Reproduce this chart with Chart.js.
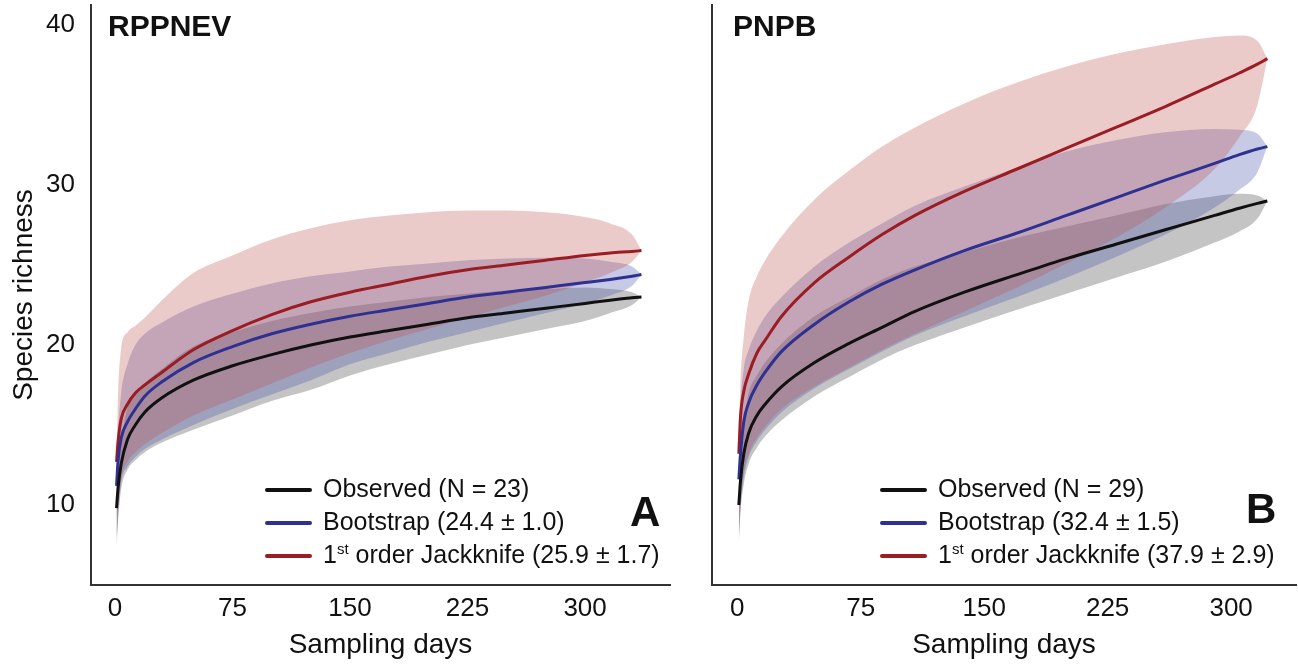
<!DOCTYPE html>
<html>
<head>
<meta charset="utf-8">
<script src="https://cdn.jsdelivr.net/npm/chart.js@4.4.1/dist/chart.umd.min.js"></script>
<style>
  body { margin: 0; background: #fff; }
  #wrap { position: relative; width: 1298px; height: 668px; font-family: "Liberation Sans", Arial, sans-serif; color: #111; }
  canvas { position: absolute; top: 0; }
  #chartA { left: 0; }
  #chartB { left: 700px; }
  .lbl { position: absolute; white-space: nowrap; line-height: 1; }
  .panel { font-weight: bold; font-size: 30px; }
  .letter { font-weight: bold; font-size: 42px; }
  .key { font-size: 25px; }
  .key sup { font-size: 15px; vertical-align: 9px; line-height: 0; }
  .swatch { position: absolute; width: 47px; height: 4px; border-radius: 2px; }
</style>
</head>
<body>
<div id="wrap">
  <canvas id="chartA" width="700" height="668"></canvas>
  <canvas id="chartB" width="598" height="668"></canvas>

  <div class="lbl panel" style="left:108px; top:11px;">RPPNEV</div>
  <div class="lbl panel" style="left:733px; top:11px;">PNPB</div>

  <div class="swatch" style="left:265px; top:488px; background:#111;"></div>
  <div class="swatch" style="left:265px; top:521px; background:#2e3192;"></div>
  <div class="swatch" style="left:265px; top:554px; background:#9b1c22;"></div>
  <div class="lbl key" style="left:323px; top:476px;">Observed (N = 23)</div>
  <div class="lbl key" style="left:323px; top:509px;">Bootstrap (24.4 ± 1.0)</div>
  <div class="lbl key" style="left:323px; top:542px;">1<sup>st</sup> order Jackknife (25.9 ± 1.7)</div>
  <div class="lbl letter" style="left:630px; top:491px;">A</div>

  <div class="swatch" style="left:880px; top:488px; background:#111;"></div>
  <div class="swatch" style="left:880px; top:521px; background:#2e3192;"></div>
  <div class="swatch" style="left:880px; top:554px; background:#9b1c22;"></div>
  <div class="lbl key" style="left:938px; top:476px;">Observed (N = 29)</div>
  <div class="lbl key" style="left:938px; top:509px;">Bootstrap (32.4 ± 1.5)</div>
  <div class="lbl key" style="left:938px; top:542px;">1<sup>st</sup> order Jackknife (37.9 ± 2.9)</div>
  <div class="lbl letter" style="left:1246px; top:488px;">B</div>
</div>

<script>
// axis ticks
const xTicks = [0, 75, 150, 225, 300];
const yTicks = [10, 20, 30, 40];

// RPPNEV - accumulation curves with confidence bands
const daysA = [1, 2, 4, 8, 13, 19, 30, 50, 75, 100, 125, 150, 175, 200, 225, 250, 275, 300, 316, 330, 336];
const obsA    = [9.8, 11.1, 12.6, 14.1, 15.0, 15.8, 16.7, 17.8, 18.7, 19.4, 20.0, 20.5, 20.9, 21.3, 21.7, 22.0, 22.3, 22.6, 22.8, 22.95, 23.0];
const obsLoA  = [7.3, 9.0, 11.0, 12.2, 12.8, 13.3, 13.9, 14.7, 15.6, 16.5, 17.2, 18.1, 18.8, 19.4, 20.0, 20.5, 21.0, 21.5, 22.0, 22.5, 23.0];
const obsHiA  = [10.0, 12.3, 14.0, 16.1, 16.9, 17.6, 18.5, 19.9, 20.8, 21.5, 22.0, 22.4, 22.7, 23.0, 23.2, 23.4, 23.5, 23.6, 23.5, 23.3, 23.0];
const bootA   = [11.2, 12.8, 14.2, 15.2, 16.0, 16.8, 17.7, 18.9, 19.9, 20.7, 21.3, 21.8, 22.2, 22.6, 23.0, 23.3, 23.6, 23.9, 24.1, 24.3, 24.4];
const bootLoA = [7.6, 9.3, 11.4, 12.4, 13.0, 13.5, 14.1, 15.0, 16.0, 16.9, 17.8, 18.8, 19.5, 20.2, 20.8, 21.4, 22.0, 22.6, 23.1, 23.7, 24.4];
const bootHiA = [11.6, 14.5, 17.0, 18.8, 20.0, 20.7, 21.4, 22.4, 23.2, 23.85, 24.3, 24.6, 24.9, 25.1, 25.3, 25.4, 25.45, 25.4, 25.2, 24.9, 24.4];
const jackA   = [12.7, 14.0, 15.4, 16.3, 17.0, 17.5, 18.3, 19.7, 20.9, 21.9, 22.7, 23.3, 23.8, 24.3, 24.7, 25.0, 25.3, 25.6, 25.75, 25.85, 25.9];
const jackLoA = [8.0, 9.6, 11.6, 12.7, 13.3, 13.8, 14.5, 15.6, 16.6, 17.6, 18.6, 19.5, 20.3, 21.0, 21.7, 22.4, 23.1, 23.9, 24.5, 25.2, 25.9];
const jackHiA = [13.0, 17.0, 19.8, 20.8, 21.2, 21.7, 22.8, 24.5, 25.6, 26.6, 27.3, 27.8, 28.1, 28.3, 28.4, 28.4, 28.3, 28.0, 27.6, 26.9, 25.9];

// PNPB
const daysB = [1, 2, 4, 7, 12, 17, 27, 47, 68, 88, 108, 138, 170, 200, 230, 260, 290, 305, 316, 322];
const obsB    = [10.0, 11.5, 13.2, 14.5, 15.6, 16.3, 17.4, 18.9, 20.1, 21.1, 22.1, 23.3, 24.4, 25.4, 26.3, 27.2, 28.1, 28.55, 28.85, 29.0];
const obsLoB  = [7.5, 9.5, 11.3, 12.6, 13.6, 14.3, 15.3, 16.8, 18.0, 19.1, 20.0, 21.1, 22.2, 23.2, 24.2, 25.2, 26.4, 27.1, 27.9, 29.0];
const obsHiB  = [10.3, 12.5, 15.0, 17.0, 18.1, 18.9, 20.1, 21.8, 23.0, 24.1, 24.9, 25.8, 26.7, 27.4, 28.1, 28.8, 29.3, 29.45, 29.35, 29.0];
const bootB   = [11.6, 13.2, 15.2, 16.4, 17.5, 18.3, 19.6, 21.3, 22.7, 23.8, 24.7, 25.9, 27.0, 28.1, 29.2, 30.3, 31.35, 31.9, 32.25, 32.4];
const bootLoB = [7.8, 9.8, 11.7, 13.0, 14.0, 14.7, 15.8, 17.3, 18.5, 19.6, 20.6, 21.8, 23.0, 24.2, 25.5, 26.9, 28.6, 29.7, 30.8, 32.4];
const bootHiB = [12.0, 16.0, 18.5, 19.7, 20.9, 21.8, 23.0, 24.9, 26.4, 27.6, 28.7, 29.9, 31.1, 32.1, 32.8, 33.3, 33.5, 33.45, 33.2, 32.4];
const jackB   = [13.2, 15.5, 17.1, 18.2, 19.5, 20.3, 21.8, 23.9, 25.5, 26.9, 28.1, 29.6, 31.0, 32.3, 33.6, 34.9, 36.3, 37.0, 37.55, 37.9];
const jackLoB = [8.0, 10.0, 12.0, 13.2, 14.2, 14.9, 16.0, 17.4, 18.6, 19.7, 20.7, 22.1, 23.6, 25.1, 26.7, 28.6, 31.0, 33.0, 35.0, 37.9];
const jackHiB = [13.5, 17.5, 20.5, 22.8, 24.3, 25.3, 26.8, 29.1, 30.9, 32.4, 33.6, 35.1, 36.4, 37.4, 38.2, 38.8, 39.25, 39.35, 39.0, 37.9];

const LINE_OBS = '#111111', LINE_BOOT = '#2e3192', LINE_JACK = '#9b1c22';
const BAND_OBS = 'rgba(60,60,60,0.3)', BAND_BOOT = 'rgba(70,80,170,0.3)', BAND_JACK = 'rgba(190,80,80,0.3)';

Chart.defaults.font.family = '"Liberation Sans", Arial, sans-serif';
Chart.defaults.color = '#111';

function pts(days, vals) {
  return days.map((d, i) => ({ x: d, y: vals[i] }));
}

function lineSet(days, vals, color) {
  return { data: pts(days, vals), borderColor: color, borderWidth: 3, pointRadius: 0, fill: false, cubicInterpolationMode: 'monotone' };
}

function bandSets(days, lo, hi, color) {
  return [
    { data: pts(days, hi), borderWidth: 0, pointRadius: 0, fill: false, cubicInterpolationMode: 'monotone' },
    { data: pts(days, lo), borderWidth: 0, pointRadius: 0, fill: '-1', backgroundColor: color, cubicInterpolationMode: 'monotone' }
  ];
}

// keep the plot area fixed: no extra room reserved for edge tick labels
function noEdgePad(sc) {
  sc.paddingTop = 0; sc.paddingBottom = 0; sc.paddingLeft = 0; sc.paddingRight = 0;
}

function makeChart(id, days, s, xMax, rightPad, showY) {
  const datasets = [
    lineSet(days, s.obs, LINE_OBS),
    lineSet(days, s.boot, LINE_BOOT),
    lineSet(days, s.jack, LINE_JACK),
    ...bandSets(days, s.jackLo, s.jackHi, BAND_JACK),
    ...bandSets(days, s.bootLo, s.bootHi, BAND_BOOT),
    ...bandSets(days, s.obsLo, s.obsHi, BAND_OBS)
  ];
  return new Chart(document.getElementById(id), {
    type: 'line',
    data: { datasets },
    options: {
      responsive: false,
      animation: false,
      devicePixelRatio: 1,
      layout: { padding: { top: 5, right: rightPad, left: 0, bottom: 0 } },
      plugins: { legend: { display: false }, tooltip: { enabled: false } },
      scales: {
        x: {
          type: 'linear', min: -15.3, max: xMax,
          grid: { display: false },
          border: { display: true, color: '#333', width: 2 },
          afterBuildTicks: sc => { sc.ticks = xTicks.map(v => ({ value: v })); },
          afterFit: sc => { sc.height = 83; noEdgePad(sc); },
          ticks: { font: { size: 26 }, padding: 0, color: '#111' },
          title: { display: true, text: 'Sampling days', font: { size: 28 }, padding: { bottom: 6 }, color: '#111' }
        },
        y: {
          type: 'linear', min: 5, max: 41.25,
          grid: { display: false },
          border: { display: true, color: '#333', width: 2 },
          afterBuildTicks: sc => { sc.ticks = yTicks.map(v => ({ value: v })); },
          afterFit: sc => { sc.width = showY ? 91 : 12; noEdgePad(sc); },
          ticks: { display: showY, font: { size: 26 }, padding: 8, color: '#111' },
          title: { display: showY, text: 'Species richness', font: { size: 28 }, padding: { top: 7 }, color: '#111' }
        }
      }
    }
  });
}

makeChart('chartA', daysA, {
  obs: obsA, obsLo: obsLoA, obsHi: obsHiA,
  boot: bootA, bootLo: bootLoA, bootHi: bootHiA,
  jack: jackA, jackLo: jackLoA, jackHi: jackHiA
}, 354.2, 30, true);

makeChart('chartB', daysB, {
  obs: obsB, obsLo: obsLoB, obsHi: obsHiB,
  boot: bootB, bootLo: bootLoB, bootHi: bootHiB,
  jack: jackB, jackLo: jackLoB, jackHi: jackHiB
}, 339.4, 2, false);
</script>
</body>
</html>
